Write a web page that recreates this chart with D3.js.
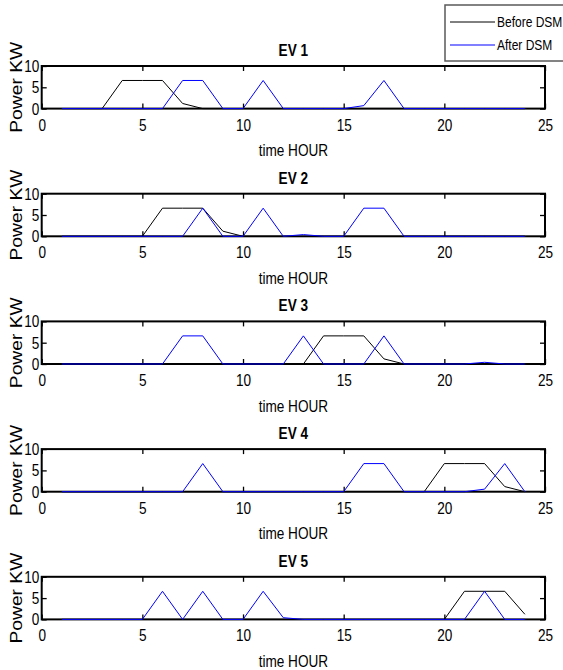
<!DOCTYPE html>
<html>
<head>
<meta charset="utf-8">
<script src="https://cdn.jsdelivr.net/npm/d3@7"></script>
<style>
  body { margin: 0; background: #fff; }
  svg text { font-family: "Liberation Sans", Arial, sans-serif; fill: #000; }
</style>
</head>
<body>
<div id="chart-area"></div>
<script>
/*
*    EV charging profiles, before / after DSM
*/

var hours = d3.range(1, 25);

var ev1Before = [0,0,0,6.6,6.6,6.6,1.2,0,0,0,0,0,0,0,0,0,0,0,0,0,0,0,0,0];
var ev1After  = [0,0,0,0,0,0,6.6,6.6,0,0,6.6,0,0,0,0,0.7,6.6,0,0,0,0,0,0,0];
var ev2Before = [0,0,0,0,0,6.6,6.6,6.6,1.2,0,0,0,0,0,0,0,0,0,0,0,0,0,0,0];
var ev2After  = [0,0,0,0,0,0,0,6.6,0,0,6.6,0,0.4,0,0,6.6,6.6,0,0,0,0,0,0,0];
var ev3Before = [0,0,0,0,0,0,0,0,0,0,0,0,0,6.6,6.6,6.6,1.2,0,0,0,0,0,0,0];
var ev3After  = [0,0,0,0,0,0,6.6,6.6,0,0,0,0,6.6,0,0,0,6.6,0,0,0,0,0.4,0,0];
var ev4Before = [0,0,0,0,0,0,0,0,0,0,0,0,0,0,0,0,0,0,0,6.6,6.6,6.6,1.2,0];
var ev4After  = [0,0,0,0,0,0,0,6.6,0,0,0,0,0,0,0,6.6,6.6,0,0,0,0,0.6,6.6,0];
var ev5Before = [0,0,0,0,0,0,0,0,0,0,0,0,0,0,0,0,0,0,0,0,6.6,6.6,6.6,1.2];
var ev5After  = [0,0,0,0,0,6.6,0,6.6,0,0,6.6,0.4,0,0,0,0,0,0,0,0,0,6.6,0,0];

var titles = ["EV 1", "EV 2", "EV 3", "EV 4", "EV 5"];
var seriesNames = ["Before DSM", "After DSM"];
var xTicks = [0, 5, 10, 15, 20, 25];
var yTicks = [0, 5, 10];

var panels = [
    {title: titles[0], before: ev1Before, after: ev1After},
    {title: titles[1], before: ev2Before, after: ev2After},
    {title: titles[2], before: ev3Before, after: ev3After},
    {title: titles[3], before: ev4Before, after: ev4After},
    {title: titles[4], before: ev5Before, after: ev5After}
];

var W = 563, H = 670;
var left = 41.7, right = 545, top0 = 66, step = 127.7, ph = 42.6;
var width = right - left;
var squeeze = 0.8;   // narrow look of the original font

var svg = d3.select("#chart-area")
    .append("svg")
    .attr("width", W)
    .attr("height", H);

var x = d3.scaleLinear().domain([0, 25]).range([0, width]);
var y = d3.scaleLinear().domain([0, 10]).range([ph, 0]);

var line = d3.line()
    .x((d, i) => x(hours[i]))
    .y((d) => y(d));

// text placed at (tx, ty) then squeezed horizontally
function narrowText(parent, tx, ty, size, str) {
    return parent.append("text")
        .attr("transform", "translate(" + tx + ", " + ty + ") scale(" + squeeze + ", 1)")
        .attr("font-size", size + "px")
        .text(str);
}

panels.forEach((p, k) => {
    var g = svg.append("g")
        .attr("transform", "translate(" + left + ", " + (top0 + k * step) + ")");

    // inward ticks on all four sides
    g.append("g")
        .attr("transform", "translate(0, " + ph + ")")
        .call(d3.axisBottom(x).tickValues(xTicks).tickSize(-5).tickPadding(10))
        .call((a) => a.select(".domain").remove())
        .selectAll("text")
            .attr("font-size", "17px")
            .attr("transform", "scale(" + squeeze + ", 1)");

    g.append("g")
        .call(d3.axisTop(x).tickValues(xTicks).tickSize(-5).tickFormat(""))
        .call((a) => a.select(".domain").remove());

    g.append("g")
        .call(d3.axisLeft(y).tickValues(yTicks).tickSize(-5).tickPadding(3))
        .call((a) => a.select(".domain").remove())
        .selectAll("text")
            .attr("font-size", "17px")
            .attr("transform", "scale(" + squeeze + ", 1)");

    g.append("g")
        .attr("transform", "translate(" + width + ", 0)")
        .call(d3.axisRight(y).tickValues(yTicks).tickSize(-5).tickFormat(""))
        .call((a) => a.select(".domain").remove());

    svg.selectAll(".tick line").attr("stroke", "#000").attr("stroke-width", 1.3);

    g.append("rect")
        .attr("x", 0).attr("y", 0)
        .attr("width", width).attr("height", ph)
        .attr("fill", "none")
        .attr("stroke", "#000")
        .attr("stroke-width", 2);

    g.append("path")
        .datum(p.before)
        .attr("d", line)
        .attr("fill", "none")
        .attr("stroke", "#000")
        .attr("stroke-width", 1);

    g.append("path")
        .datum(p.after)
        .attr("d", line)
        .attr("fill", "none")
        .attr("stroke", "#0000ff")
        .attr("stroke-width", 1);

    // title
    narrowText(g, width / 2, -10, 17, p.title)
        .attr("text-anchor", "middle")
        .attr("font-weight", "bold");

    // x label
    narrowText(g, width / 2, ph + 47.5, 17, "time HOUR")
        .attr("text-anchor", "middle");

    // y label
    g.append("text")
        .attr("transform", "rotate(-90)")
        .attr("x", -ph / 2)
        .attr("y", -left + 22)
        .attr("text-anchor", "middle")
        .attr("font-size", "16px")
        .attr("textLength", 91)
        .attr("lengthAdjust", "spacingAndGlyphs")
        .text("Power KW");
});

// legend
var lg = svg.append("g").attr("transform", "translate(445, 5)");
lg.append("rect")
    .attr("width", 130).attr("height", 56)
    .attr("fill", "#fff")
    .attr("stroke", "#5a5a5a")
    .attr("stroke-width", 1.5);

var legendColors = ["#000", "#0000ff"];
seriesNames.forEach((name, i) => {
    lg.append("line")
        .attr("x1", 5).attr("x2", 50)
        .attr("y1", 17 + i * 23).attr("y2", 17 + i * 23)
        .attr("stroke", legendColors[i])
        .attr("stroke-width", 1);
    narrowText(lg, 52, 22 + i * 23, 15, name);
});
</script>
</body>
</html>
